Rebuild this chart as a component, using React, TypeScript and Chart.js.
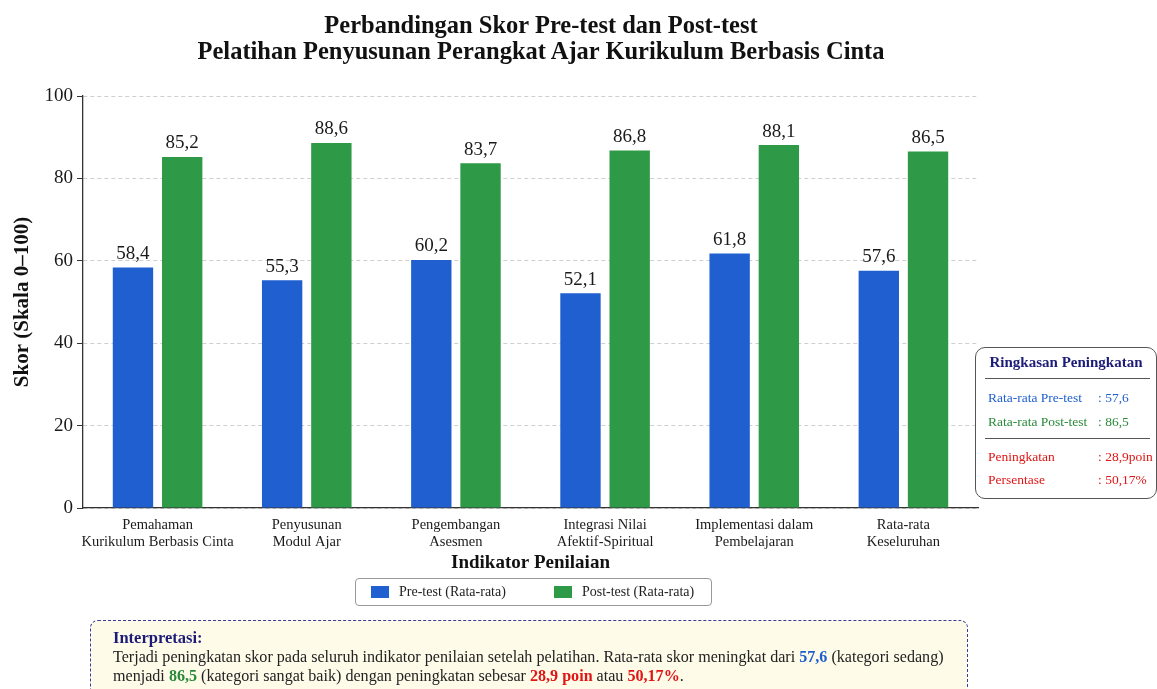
import React, { useEffect, useRef } from "react";
import { Chart, registerables } from "chart.js";

Chart.register(...registerables);

const categories: string[][] = [
  ["Pemahaman", "Kurikulum Berbasis Cinta"],
  ["Penyusunan", "Modul Ajar"],
  ["Pengembangan", "Asesmen"],
  ["Integrasi Nilai", "Afektif-Spiritual"],
  ["Implementasi dalam", "Pembelajaran"],
  ["Rata-rata", "Keseluruhan"],
];
const preTest = [58.4, 55.3, 60.2, 52.1, 61.8, 57.6];
const postTest = [85.2, 88.6, 83.7, 86.8, 88.1, 86.5];
const seriesNames = ["Pre-test (Rata-rata)", "Post-test (Rata-rata)"];
const yMin = 0;
const yMax = 100;
const yStep = 20;

const summaryRows = [
  { label: "Rata-rata Pre-test", value: ": 57,6", color: "#1f5fcf" },
  { label: "Rata-rata Post-test", value: ": 86,5", color: "#2a8a3a" },
  { label: "Peningkatan", value: ": 28,9poin", color: "#e01515" },
  { label: "Persentase", value: ": 50,17%", color: "#e01515" },
];

const BLUE = "#1f5fcf";
const GREEN = "#2e9a47";
const FONT = "'Liberation Serif', 'Times New Roman', serif";

const fmt = (v: number) => v.toFixed(1).replace(".", ",");

const dataLabelPlugin = {
  id: "dataLabels",
  afterDatasetsDraw(chart: any) {
    const ctx = chart.ctx;
    ctx.save();
    ctx.font = `19px ${FONT}`;
    ctx.fillStyle = "#1a1a1a";
    ctx.textAlign = "center";
    ctx.textBaseline = "bottom";
    chart.data.datasets.forEach((ds: any, i: number) => {
      const meta = chart.getDatasetMeta(i);
      meta.data.forEach((bar: any, j: number) => {
        ctx.fillText(fmt(ds.data[j]), bar.x, bar.y - 4);
      });
    });
    ctx.restore();
  },
};

export default function App() {
  const ref = useRef<HTMLCanvasElement | null>(null);

  useEffect(() => {
    if (!ref.current) return;
    const chart = new Chart(ref.current, {
      type: "bar",
      data: {
        labels: categories,
        datasets: [
          {
            label: seriesNames[0],
            data: preTest,
            backgroundColor: BLUE,
            barPercentage: 0.82,
            categoryPercentage: 0.66,
          },
          {
            label: seriesNames[1],
            data: postTest,
            backgroundColor: GREEN,
            barPercentage: 0.82,
            categoryPercentage: 0.66,
          },
        ],
      },
      options: {
        responsive: false,
        animation: false,
        layout: { padding: { left: 0, top: 96, right: 179, bottom: 0 } },
        plugins: {
          legend: { display: false },
          title: { display: false },
          tooltip: { enabled: false },
        },
        scales: {
          x: {
            grid: { display: false },
            border: { display: true, color: "#333", width: 1.3 },
            ticks: {
              color: "#1a1a1a",
              font: { family: FONT, size: 14.5 },
              padding: 0,
              maxRotation: 0,
              autoSkip: false,
            },
            title: {
              display: true,
              text: "Indikator Penilaian",
              color: "#111",
              font: { family: FONT, size: 19, weight: "bold" },
              padding: { top: 0, bottom: 115 },
            },
            afterFit: (s: any) => {
              s.height = 181;
            },
          },
          y: {
            min: yMin,
            max: yMax,
            ticks: {
              stepSize: yStep,
              color: "#1a1a1a",
              font: { family: FONT, size: 19 },
              padding: 4,
            },
            grid: {
              color: "#cfcfcf",
              tickColor: "#333",
              tickLength: 6,
              tickBorderDash: [],
              lineWidth: 1,
            },
            border: { display: true, color: "#333", width: 1.3, dash: [4, 3] },
            title: {
              display: true,
              text: "Skor (Skala 0–100)",
              color: "#111",
              font: { family: FONT, size: 21, weight: "bold" },
              padding: { top: 10, bottom: 0 },
            },
            afterFit: (s: any) => {
              s.width = 83;
            },
          },
        },
      },
      plugins: [dataLabelPlugin],
    });
    return () => chart.destroy();
  }, []);

  const textBase: React.CSSProperties = { fontFamily: FONT, position: "absolute" };

  return (
    <div
      style={{
        position: "fixed",
        left: 0,
        top: 0,
        width: 1157,
        height: 689,
        background: "#fff",
        overflow: "hidden",
        fontFamily: FONT,
      }}
    >
      <canvas ref={ref} width={1157} height={689} style={{ position: "absolute", left: 0, top: 0, width: 1157, height: 689 }} />

      {/* Title */}
      <div
        style={{
          ...textBase,
          left: 0,
          width: 1082,
          top: 12,
          textAlign: "center",
          fontWeight: "bold",
          fontSize: 24.5,
          lineHeight: "26px",
          color: "#111",
        }}
      >
        <div>Perbandingan Skor Pre-test dan Post-test</div>
        <div>Pelatihan Penyusunan Perangkat Ajar Kurikulum Berbasis Cinta</div>
      </div>

      {/* Legend */}
      <div
        style={{
          ...textBase,
          left: 355,
          top: 578,
          width: 357,
          height: 28,
          boxSizing: "border-box",
          border: "1px solid #999",
          borderRadius: 4,
          display: "flex",
          alignItems: "center",
          fontSize: 14,
          color: "#222",
        }}
      >
        <span style={{ display: "inline-block", width: 18, height: 12, background: BLUE, marginLeft: 15, marginRight: 10 }} />
        <span>{seriesNames[0]}</span>
        <span style={{ display: "inline-block", width: 18, height: 12, background: GREEN, marginLeft: 48, marginRight: 10 }} />
        <span>{seriesNames[1]}</span>
      </div>

      {/* Summary box */}
      <div
        style={{
          ...textBase,
          left: 975,
          top: 347,
          width: 182,
          height: 152,
          boxSizing: "border-box",
          border: "1.5px solid #555",
          borderRadius: 10,
          background: "#fff",
        }}
      >
        <div
          style={{
            position: "absolute",
            left: 0,
            right: 0,
            top: 6,
            textAlign: "center",
            fontWeight: "bold",
            fontSize: 15,
            color: "#1c1c78",
          }}
        >
          Ringkasan Peningkatan
        </div>
        <div style={{ position: "absolute", left: 9, right: 6, top: 30, borderTop: "1.5px solid #555" }} />
        {summaryRows.map((r, i) => {
          const tops = [42, 66, 101, 124];
          return (
            <div key={i} style={{ position: "absolute", left: 12, top: tops[i], fontSize: 13.5, color: r.color, whiteSpace: "nowrap" }}>
              <span style={{ display: "inline-block", width: 110 }}>{r.label}</span>
              <span>{r.value}</span>
            </div>
          );
        })}
        <div style={{ position: "absolute", left: 9, right: 6, top: 90, borderTop: "1.5px solid #555" }} />
      </div>

      {/* Interpretation box */}
      <div
        style={{
          ...textBase,
          left: 90,
          top: 620,
          width: 878,
          height: 90,
          boxSizing: "border-box",
          border: "1.5px dashed #3b3b9a",
          borderRadius: 8,
          background: "#fffbe9",
          padding: "7px 22px",
          fontSize: 16.1,
          lineHeight: "19px",
          color: "#222",
        }}
      >
        <div style={{ fontWeight: "bold", color: "#1c1c78", fontSize: 16.5 }}>Interpretasi:</div>
        <div>
          Terjadi peningkatan skor pada seluruh indikator penilaian setelah pelatihan. Rata-rata skor meningkat dari{" "}
          <b style={{ color: "#1f5fcf" }}>57,6</b> (kategori sedang)
          <br />
          menjadi <b style={{ color: "#2a8a3a" }}>86,5</b> (kategori sangat baik) dengan peningkatan sebesar{" "}
          <b style={{ color: "#e01515" }}>28,9 poin</b> atau <b style={{ color: "#e01515" }}>50,17%</b>.
        </div>
      </div>
    </div>
  );
}
